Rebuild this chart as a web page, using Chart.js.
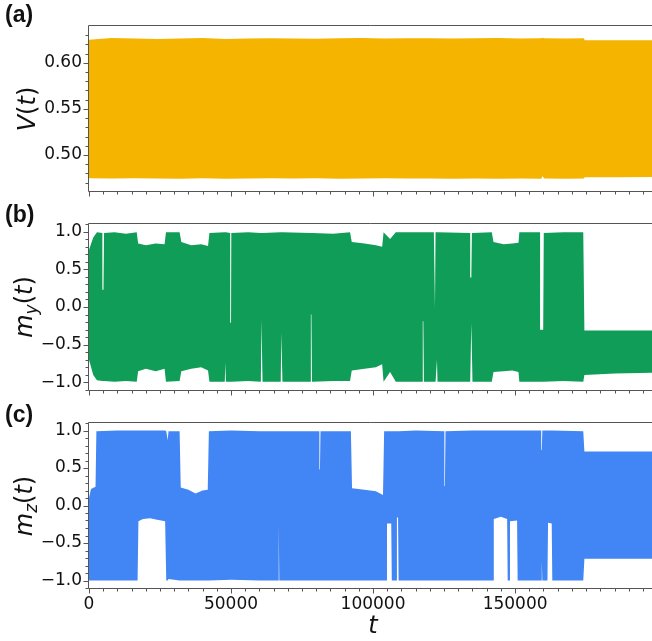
<!DOCTYPE html>
<html><head><meta charset="utf-8">
<script src="https://cdn.jsdelivr.net/npm/chart.js@4.4.1/dist/chart.umd.min.js"></script>
<style>
html,body{margin:0;padding:0;background:#fff;}
#wrap{position:relative;width:652px;height:641px;overflow:hidden;font-family:'DejaVu Sans',sans-serif;color:#111;}
.pane{position:absolute;left:0;width:652px;}
.pane canvas{display:block;}
.plabel{position:absolute;left:5px;font:bold 23px 'Liberation Sans',Arial,sans-serif;line-height:23px;color:#111;}
.ytitle{position:absolute;font-family:'DejaVu Sans',sans-serif;font-size:24px;line-height:24px;white-space:nowrap;transform:translate(-50%,-50%) rotate(-90deg);}
.ytitle i,.xtitle i{font-style:italic;}
.sub{font-size:17px;position:relative;top:5px;}
.xtitle{position:absolute;font-family:'DejaVu Sans',sans-serif;font-size:24px;line-height:24px;transform:translate(-50%,-50%);}
</style></head><body>
<div id="wrap">
  <div class="pane" style="top:0;height:200px"><canvas id="cA" width="652" height="200"></canvas></div>
  <div class="pane" style="top:200px;height:200px"><canvas id="cB" width="652" height="200"></canvas></div>
  <div class="pane" style="top:400px;height:241px"><canvas id="cC" width="652" height="241"></canvas></div>
  <div class="plabel" style="top:3px">(a)</div>
  <div class="plabel" style="top:203px">(b)</div>
  <div class="plabel" style="top:403px">(c)</div>
  <div class="ytitle" style="left:27px;top:109px"><i>V</i>(<i>t</i>)</div>
  <div class="ytitle" style="left:25px;top:307px"><i>m</i><span class="sub"><i>y</i></span>(<i>t</i>)</div>
  <div class="ytitle" style="left:25px;top:506px"><i>m</i><span class="sub"><i>z</i></span>(<i>t</i>)</div>
  <div class="xtitle" style="left:373px;top:625px"><i>t</i></div>
</div>
<script>
// ---------------- data ----------------
const xMax = 198200;
const xMajorTicks = [0, 50000, 100000, 150000];
const xMinorStep = 5000;

// Panel (a): V(t) oscillation envelope
const vTime  = [0, 8000, 16000, 24000, 32000, 40000, 48000, 56000, 64000, 72000, 80000, 88000, 96000, 104000, 112000, 120000, 128000, 136000, 144000, 152000, 159200, 159700, 160200, 168000, 174200, 174500, 186000, 198200];
const vUpper = [0.6250, 0.6268, 0.6262, 0.6258, 0.6262, 0.6268, 0.6258, 0.6262, 0.6266, 0.6262, 0.6260, 0.6265, 0.6268, 0.6262, 0.6265, 0.6266, 0.6262, 0.6264, 0.6268, 0.6262, 0.6266, 0.6270, 0.6264, 0.6262, 0.6264, 0.6244, 0.6244, 0.6244];
const vLower = [0.4748, 0.4745, 0.4748, 0.4746, 0.4744, 0.4747, 0.4744, 0.4746, 0.4748, 0.4745, 0.4747, 0.4744, 0.4746, 0.4748, 0.4745, 0.4746, 0.4744, 0.4746, 0.4744, 0.4745, 0.4744, 0.4772, 0.4745, 0.4744, 0.4745, 0.4758, 0.4760, 0.4761];
const vTicks = [0.50, 0.55, 0.60];

// Panel (b): m_y(t) oscillation envelope
const myTime  = [0, 1500, 2800, 4700, 4900, 5100, 5300, 9000, 13000, 16800, 17300, 20000, 23500, 26600, 27100, 31900, 32500, 36000, 39500, 41900, 42400, 47800, 48000, 48200, 49700, 49800, 50000, 50100, 56000, 60500, 60700, 60900, 61100, 67500, 67700, 67900, 68100, 77900, 78100, 78300, 78500, 86000, 91900, 92500, 97000, 101000, 103200, 103700, 106000, 108000, 117300, 117500, 117700, 117900, 121400, 121600, 121800, 122000, 122500, 122700, 134200, 134400, 134600, 134800, 135000, 141800, 142400, 146000, 149000, 151200, 151500, 158800, 159000, 159900, 160100, 167000, 174000, 174400, 185000, 198200];
const myUpper = [0.76, 0.92, 0.99, 0.98, 0.23, 0.23, 0.98, 0.99, 0.97, 0.99, 0.84, 0.82, 0.84, 0.83, 0.99, 0.99, 0.86, 0.82, 0.83, 0.81, 0.98, 0.99, 0.99, 0.99, 0.98, -0.21, -0.21, 0.98, 0.99, 0.98, 0.98, 0.98, 0.98, 0.99, 0.99, 0.99, 0.99, 0.98, 0.98, 0.98, 0.98, 0.97, 0.99, 0.86, 0.84, 0.82, 0.80, 0.99, 0.90, 0.99, 0.99, 0.99, 0.99, 0.99, 0.99, -0.03, -0.03, 0.99, 0.99, 0.99, 0.98, 0.39, 0.39, 0.98, 0.98, 0.99, 0.86, 0.83, 0.84, 0.85, 0.99, 0.99, -0.30, -0.30, 0.98, 0.99, 0.99, -0.31, -0.31, -0.31];
const myLower = [-0.70, -0.90, -0.97, -0.98, -0.98, -0.98, -0.98, -0.99, -0.98, -0.99, -0.85, -0.82, -0.85, -0.82, -0.99, -0.98, -0.85, -0.82, -0.80, -0.84, -0.99, -0.99, -0.74, -0.99, -0.99, -0.99, -0.99, -0.99, -0.98, -0.99, -0.17, -0.17, -0.99, -0.99, -0.34, -0.34, -0.99, -0.99, -0.10, -0.10, -0.99, -0.98, -0.98, -0.84, -0.82, -0.80, -0.76, -0.99, -0.86, -0.99, -0.99, -0.19, -0.19, -0.99, -0.99, -0.99, -0.99, -0.99, -0.70, -0.99, -0.99, -0.99, -0.21, -0.21, -0.99, -0.99, -0.86, -0.85, -0.84, -0.86, -0.99, -0.99, -0.99, -0.99, -0.99, -0.98, -0.99, -0.90, -0.88, -0.87];

// Panel (c): m_z(t) oscillation envelope
const mzTime  = [0, 700, 2300, 2600, 10000, 17100, 17400, 19000, 21500, 24000, 26800, 27200, 27700, 28000, 31900, 32300, 35000, 37500, 40000, 41800, 42200, 50000, 60000, 66600, 66800, 67000, 75000, 81100, 81300, 81500, 92200, 92600, 97000, 101000, 103500, 103900, 104700, 104900, 106400, 106600, 108200, 108400, 108800, 109000, 115000, 125100, 125300, 125500, 135000, 142300, 142500, 145000, 147200, 147400, 148000, 148200, 150700, 150900, 159200, 159400, 159600, 161400, 161600, 162900, 163100, 174000, 174400, 198200];
const mzUpper = [0.10, 0.22, 0.25, 0.99, 1.00, 1.00, 1.00, 1.00, 1.00, 1.00, 1.00, 0.99, 0.87, 0.99, 0.99, 0.24, 0.21, 0.16, 0.20, 0.21, 0.99, 1.00, 0.99, 0.99, 0.99, 0.99, 0.99, 0.99, 0.48, 0.99, 0.99, 0.23, 0.21, 0.19, 0.14, 0.99, 0.99, 0.99, 0.99, 0.99, 0.99, 0.99, 0.99, 0.99, 1.00, 0.99, 0.26, 0.99, 1.00, 1.00, 1.00, 1.00, 1.00, 1.00, 1.00, 1.00, 1.00, 1.00, 1.00, 0.74, 1.00, 1.00, 1.00, 1.00, 1.00, 0.99, 0.72, 0.72];
const mzLower = [-1.00, -1.00, -1.00, -1.00, -1.00, -1.00, -0.21, -0.18, -0.17, -0.19, -0.21, -1.00, -1.00, -0.98, -1.00, -1.00, -1.00, -1.00, -1.00, -1.00, -1.00, -0.99, -1.00, -1.00, -0.25, -1.00, -1.00, -1.00, -1.00, -1.00, -1.00, -1.00, -1.00, -1.00, -1.00, -1.00, -1.00, -0.24, -0.24, -1.00, -1.00, -0.16, -0.16, -1.00, -1.00, -1.00, -1.00, -1.00, -1.00, -1.00, -0.18, -0.15, -0.18, -1.00, -1.00, -0.21, -0.20, -1.00, -1.00, -0.74, -1.00, -1.00, -0.23, -0.24, -1.00, -1.00, -0.71, -0.71];
const mTicks = [-1.0, -0.5, 0.0, 0.5, 1.0];

// ---------------- drawing ----------------
const tickFont = {family: "'DejaVu Sans', sans-serif", size: 17};
const textColor = '#111';
const spineColor = '#555';

function pts(times, vals){ return times.map((t,i)=>({x:t, y:vals[i]})); }
function range(a,b,step){ const out=[]; for(let v=a; v<=b+1e-9; v+=step) out.push(+v.toFixed(6)); return out; }

const framePlugin = {
  id: 'frame',
  afterDatasetsDraw(chart, args, opts){
    const {ctx, chartArea:a, scales:{x, y}} = chart;
    ctx.save();
    ctx.strokeStyle = spineColor;
    ctx.lineWidth = 1;
    const seg=(x1,y1,x2,y2)=>{ctx.beginPath();ctx.moveTo(x1,y1);ctx.lineTo(x2,y2);ctx.stroke();};
    const L = a.left - 0.5, B = a.bottom + 0.5, T = a.top - 0.5;
    range(0, xMax, xMinorStep).forEach(v=>{
      const px = Math.round(x.getPixelForValue(v)) + 0.5;
      const major = xMajorTicks.includes(v);
      seg(px, B, px, B + (major ? 5 : 3));
    });
    opts.yMinor.forEach(v=>{
      const py = Math.round(y.getPixelForValue(v)) + 0.5;
      if (py < a.top - 1 || py > a.bottom + 1) return;
      const major = opts.yMajor.some(m=>Math.abs(m-v)<1e-6);
      seg(L, py, L - (major ? 5 : 3), py);
    });
    seg(L, T, a.right + 2, T);
    seg(L, T, L, B);
    seg(L, B, a.right + 2, B);
    ctx.restore();
  }
};

function makeChart(id, cfg){
  const color = cfg.color;
  return new Chart(document.getElementById(id), {
    type: 'line',
    data: {
      datasets: [
        {data: pts(cfg.time, cfg.upper), borderColor: 'rgba(0,0,0,0)', borderWidth: 0, pointRadius: 0, fill: false, tension: 0},
        {data: pts(cfg.time, cfg.lower), borderColor: 'rgba(0,0,0,0)', borderWidth: 0, pointRadius: 0, fill: '-1', backgroundColor: color, tension: 0}
      ]
    },
    plugins: [framePlugin],
    options: {
      responsive: false,
      devicePixelRatio: 1,
      animation: false,
      events: [],
      layout: {padding: {top: cfg.padTop, left: 0, right: 0, bottom: 0}},
      plugins: {legend: {display: false}, tooltip: {enabled: false}, frame: {yMajor: cfg.yTicks, yMinor: cfg.yMinor}},
      scales: {
        x: {
          type: 'linear', min: 0, max: xMax,
          grid: {display: false, drawTicks: false}, border: {display: false},
          ticks: {display: cfg.showX, font: tickFont, color: textColor, padding: 6, maxRotation: 0, autoSkip: false,
                  callback: v => String(v)},
          afterBuildTicks: s => { s.ticks = xMajorTicks.map(v=>({value: v})); },
          afterFit: s => { s.height = cfg.xAxisH; s.paddingLeft = 0; s.paddingRight = 0; }
        },
        y: {
          type: 'linear', min: cfg.yMin, max: cfg.yMax,
          grid: {display: false, drawTicks: false}, border: {display: false},
          ticks: {font: tickFont, color: textColor, padding: 7, autoSkip: false,
                  callback: v => v.toFixed(cfg.dec).replace('-', '\u2212')},
          afterBuildTicks: s => { s.ticks = cfg.yTicks.map(v=>({value: v})); },
          afterFit: s => { s.width = 89; s.paddingTop = 0; s.paddingBottom = 0; }
        }
      }
    }
  });
}

makeChart('cA', {color: '#F4B400', time: vTime, upper: vUpper, lower: vLower,
  yMin: 0.4610, yMax: 0.6398, yTicks: vTicks, yMinor: range(0.47, 0.63, 0.01), dec: 2,
  padTop: 26, xAxisH: 9, showX: false});
makeChart('cB', {color: '#0F9D58', time: myTime, upper: myUpper, lower: myLower,
  yMin: -1.1, yMax: 1.1, yTicks: mTicks, yMinor: range(-1.1, 1.1, 0.1), dec: 1,
  padTop: 24, xAxisH: 10, showX: false});
makeChart('cC', {color: '#4285F4', time: mzTime, upper: mzUpper, lower: mzLower,
  yMin: -1.1, yMax: 1.1, yTicks: mTicks, yMinor: range(-1.1, 1.1, 0.1), dec: 1,
  padTop: 23, xAxisH: 53, showX: true});
</script>
</body></html>
